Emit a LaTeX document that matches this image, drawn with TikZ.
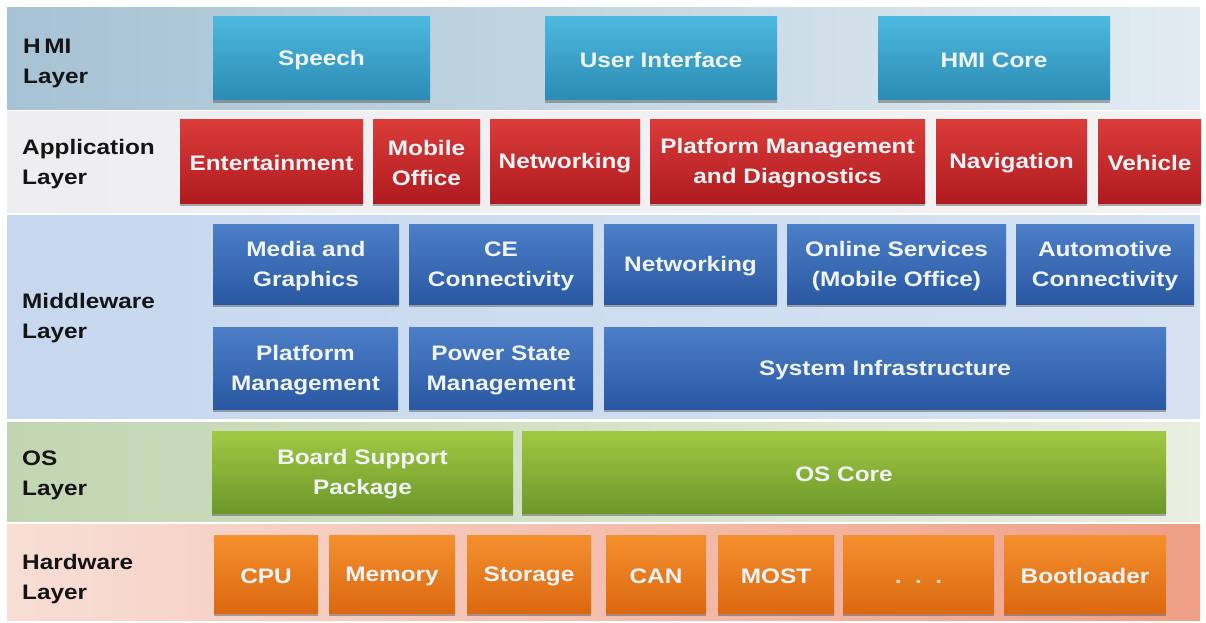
\documentclass[tikz,border=0pt]{standalone}
\usepackage{fontspec}
\setmainfont{Liberation Sans}[FakeStretch=1.16]
\usetikzlibrary{shadows}
\definecolor{hmiTop}{HTML}{4DB8DE}
\definecolor{hmiBot}{HTML}{2B8BB3}
\definecolor{appTop}{HTML}{DA3C3A}
\definecolor{appBot}{HTML}{B01B1F}
\definecolor{mwTop}{HTML}{4C7FC8}
\definecolor{mwBot}{HTML}{2A58A2}
\definecolor{osTop}{HTML}{A2C842}
\definecolor{osBot}{HTML}{6C982A}
\definecolor{hwTop}{HTML}{F4902E}
\definecolor{hwBot}{HTML}{DC6810}
\definecolor{bandHmiL}{HTML}{A6C2D4}
\definecolor{bandHmiR}{HTML}{E2EBF1}
\definecolor{bandAppL}{HTML}{EEEEF1}
\definecolor{bandAppR}{HTML}{F4F2F3}
\definecolor{bandMwL}{HTML}{C6D7EF}
\definecolor{bandMwR}{HTML}{D6E2F2}
\definecolor{bandOsL}{HTML}{C2D5B2}
\definecolor{bandOsR}{HTML}{E8EEE0}
\definecolor{bandHwL}{HTML}{F8DED6}
\definecolor{bandHwR}{HTML}{EF9F86}
\definecolor{boxText}{HTML}{F0F4F6}
\definecolor{labelText}{HTML}{141414}
\newcommand\mystrut{\rule[-1pt]{0pt}{20pt}}
% box: style, name, x1, y1, x2, y2, text
\newcommand\bx[7]{\node[#1, minimum width={#5pt-#3pt}, minimum height={#6pt-#4pt}] (#2) at ({(#3+#5)/2},{(#4+#6)/2}) {\mystrut#7\mystrut};}
% band: name, x1, y1, x2, y2, left colour, right colour
\newcommand\band[7]{\node[bandbase, left color=#6, right color=#7, minimum width={#4pt-#2pt}, minimum height={#5pt-#3pt}] (#1) at ({(#2+#4)/2},{(#3+#5)/2}) {};}
\begin{document}
\begin{tikzpicture}[x=1pt,y=-1pt,
  bandbase/.style={draw=none, inner sep=0pt, outer sep=0pt},
  boxbase/.style={draw=none, inner sep=0pt, outer sep=0pt, align=center,
    text=boxText, font=\fontsize{21}{30}\selectfont\bfseries,
    drop shadow={shadow xshift=0pt, shadow yshift=-3pt, opacity=0.45, fill=black!70}},
  hmibox/.style={boxbase, top color=hmiTop, bottom color=hmiBot},
  appbox/.style={boxbase, top color=appTop, bottom color=appBot},
  mwbox/.style={boxbase, top color=mwTop, bottom color=mwBot},
  osbox/.style={boxbase, top color=osTop, bottom color=osBot},
  hwbox/.style={boxbase, top color=hwTop, bottom color=hwBot},
  layerlabel/.style={anchor=west, align=left, inner sep=0pt, text=labelText,
    font=\fontsize{21}{30}\selectfont\bfseries}
]
\useasboundingbox (0,0) rectangle (1206,623);
\fill[white] (0,0) rectangle (1206,623);

% layer bands
\band{bHmi}{7}{8}{1200}{110}{bandHmiL}{bandHmiR}
\band{bApp}{7}{112}{1200}{212}{bandAppL}{bandAppR}
\band{bMw}{7}{215}{1200}{418}{bandMwL}{bandMwR}
\band{bOs}{7}{422}{1200}{521}{bandOsL}{bandOsR}
\band{bHw}{7}{524}{1200}{620}{bandHwL}{bandHwR}

% layer labels
\node[layerlabel] (lHmi) at (23,61) {\mystrut H\,MI\\Layer\mystrut};
\node[layerlabel] (lApp) at (22,162) {\mystrut Application\\Layer\mystrut};
\node[layerlabel] (lMw) at (22,316) {\mystrut Middleware\\Layer\mystrut};
\node[layerlabel] (lOs) at (22,473) {\mystrut OS\\Layer\mystrut};
\node[layerlabel] (lHw) at (22,577) {\mystrut Hardware\\Layer\mystrut};

% HMI layer
\bx{hmibox}{speech}{213}{17}{430}{100}{Speech}
\bx{hmibox}{ui}{545}{17}{777}{100}{User Interface}
\bx{hmibox}{hmicore}{878}{17}{1110}{100}{HMI Core}

% Application layer
\bx{appbox}{ent}{180}{120}{363}{203}{Entertainment}
\bx{appbox}{mob}{373}{120}{480}{203}{Mobile\\Office}
\bx{appbox}{netapp}{490}{120}{640}{203}{Networking}
\bx{appbox}{pmd}{650}{120}{925}{203}{Platform Management\\and Diagnostics}
\bx{appbox}{nav}{936}{120}{1087}{203}{Navigation}
\bx{appbox}{veh}{1098}{120}{1201}{203}{Vehicle}

% Middleware layer, row 1
\bx{mwbox}{media}{213}{224}{399}{304}{Media and\\Graphics}
\bx{mwbox}{ce}{409}{224}{593}{304}{CE\\Connectivity}
\bx{mwbox}{netmw}{604}{224}{777}{304}{Networking}
\bx{mwbox}{online}{787}{224}{1006}{304}{Online Services\\(Mobile Office)}
\bx{mwbox}{auto}{1016}{224}{1194}{304}{Automotive\\Connectivity}
% Middleware layer, row 2
\bx{mwbox}{pm}{213}{327}{398}{409}{Platform\\Management}
\bx{mwbox}{psm}{409}{327}{593}{409}{Power State\\Management}
\bx{mwbox}{sysinf}{604}{327}{1166}{409}{System Infrastructure}

% OS layer
\bx{osbox}{bsp}{212}{431}{513}{513}{Board Support\\Package}
\bx{osbox}{oscore}{522}{431}{1166}{513}{OS Core}

% Hardware layer
\bx{hwbox}{cpu}{214}{535}{318}{613}{CPU}
\bx{hwbox}{mem}{329}{535}{455}{613}{Memory}
\bx{hwbox}{stor}{467}{535}{591}{613}{Storage}
\bx{hwbox}{can}{606}{535}{706}{613}{CAN}
\bx{hwbox}{most}{718}{535}{834}{613}{MOST}
\bx{hwbox}{dots}{843}{535}{994}{613}{\textcolor{boxText!75!hwTop}{.\ \ .\ \ .}}
\bx{hwbox}{boot}{1004}{535}{1166}{613}{Bootloader}
\end{tikzpicture}
\end{document}
